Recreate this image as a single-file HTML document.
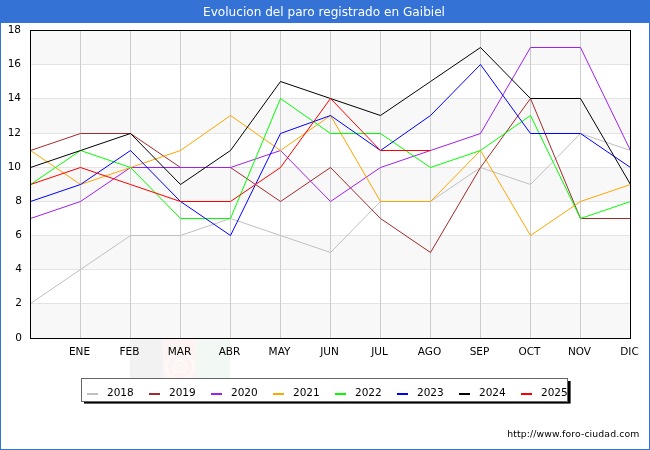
<!DOCTYPE html>
<html><head><meta charset="utf-8"><title>Evolucion del paro registrado en Gaibiel</title>
<style>
html,body{margin:0;padding:0;background:#fff;}
body{width:650px;height:450px;overflow:hidden;position:relative;font-family:"DejaVu Sans","Liberation Sans",sans-serif;}
svg{position:absolute;left:0;top:0;display:block;}
text{font-family:"DejaVu Sans","Liberation Sans",sans-serif;}
</style></head><body>
<svg width="650" height="450" viewBox="0 0 650 450">
<rect x="0" y="0" width="650" height="450" fill="#ffffff"/>
<rect x="0" y="0" width="650" height="23" fill="#3472d6"/>
<rect x="0" y="0" width="1" height="450" fill="#3472d6"/>
<rect x="649" y="0" width="1" height="450" fill="#3472d6"/>
<rect x="0" y="449" width="650" height="1" fill="#3472d6"/>
<text x="324" y="16" font-size="12.1" fill="#ffffff" text-anchor="middle">Evolucion del paro registrado en Gaibiel</text>

<rect x="130" y="339" width="33.5" height="40" fill="#f2f2f2"/>
<rect x="163.5" y="339" width="33" height="40" fill="#fdf3f2"/>
<rect x="196.5" y="339" width="33.5" height="40" fill="#f2f8f4"/>
<g fill="none" stroke="#ffffff" opacity="0.6">
<circle cx="180" cy="366.5" r="13.5" stroke-width="3.4" stroke-dasharray="2.4 0.8"/>
<path d="M174 372 L174 364 Q180 357 186 364 L186 372 Z" stroke-width="1.6"/>
<path d="M177.5 372 L177.5 367 Q180 364.5 182.5 367 L182.5 372" stroke-width="1.2"/>
<path d="M176 360 Q180 357.5 184 360" stroke-width="1.4"/>
</g>
<rect x="30.5" y="30.50" width="600.0" height="34.00" fill="#f8f8f8"/>
<rect x="30.5" y="98.50" width="600.0" height="35.00" fill="#f8f8f8"/>
<rect x="30.5" y="167.50" width="600.0" height="34.00" fill="#f8f8f8"/>
<rect x="30.5" y="235.50" width="600.0" height="34.00" fill="#f8f8f8"/>
<rect x="30.5" y="303.50" width="600.0" height="35.00" fill="#f8f8f8"/>
<line x1="30.5" y1="303.5" x2="630.5" y2="303.5" stroke="#e4e4e4" stroke-width="1"/>
<line x1="30.5" y1="269.5" x2="630.5" y2="269.5" stroke="#e4e4e4" stroke-width="1"/>
<line x1="30.5" y1="235.5" x2="630.5" y2="235.5" stroke="#e4e4e4" stroke-width="1"/>
<line x1="30.5" y1="201.5" x2="630.5" y2="201.5" stroke="#e4e4e4" stroke-width="1"/>
<line x1="30.5" y1="167.5" x2="630.5" y2="167.5" stroke="#e4e4e4" stroke-width="1"/>
<line x1="30.5" y1="133.5" x2="630.5" y2="133.5" stroke="#e4e4e4" stroke-width="1"/>
<line x1="30.5" y1="98.5" x2="630.5" y2="98.5" stroke="#e4e4e4" stroke-width="1"/>
<line x1="30.5" y1="64.5" x2="630.5" y2="64.5" stroke="#e4e4e4" stroke-width="1"/>
<line x1="80.5" y1="30.5" x2="80.5" y2="338.5" stroke="#cccccc" stroke-width="1"/>
<line x1="130.5" y1="30.5" x2="130.5" y2="338.5" stroke="#cccccc" stroke-width="1"/>
<line x1="180.5" y1="30.5" x2="180.5" y2="338.5" stroke="#cccccc" stroke-width="1"/>
<line x1="230.5" y1="30.5" x2="230.5" y2="338.5" stroke="#cccccc" stroke-width="1"/>
<line x1="280.5" y1="30.5" x2="280.5" y2="338.5" stroke="#cccccc" stroke-width="1"/>
<line x1="330.5" y1="30.5" x2="330.5" y2="338.5" stroke="#cccccc" stroke-width="1"/>
<line x1="380.5" y1="30.5" x2="380.5" y2="338.5" stroke="#cccccc" stroke-width="1"/>
<line x1="430.5" y1="30.5" x2="430.5" y2="338.5" stroke="#cccccc" stroke-width="1"/>
<line x1="480.5" y1="30.5" x2="480.5" y2="338.5" stroke="#cccccc" stroke-width="1"/>
<line x1="530.5" y1="30.5" x2="530.5" y2="338.5" stroke="#cccccc" stroke-width="1"/>
<line x1="580.5" y1="30.5" x2="580.5" y2="338.5" stroke="#cccccc" stroke-width="1"/>
<polyline points="30.5,303.5 80.5,269.5 130.5,235.5 180.5,235.5 230.5,218.5 280.5,235.5 330.5,252.5 380.5,201.5 430.5,201.5 480.5,167.5 530.5,184.5 580.5,133.5 630.5,150.5" fill="none" stroke="#c0c0c0" stroke-width="1" stroke-linejoin="round"/>
<polyline points="30.5,150.5 80.5,133.5 130.5,133.5 180.5,167.5 230.5,167.5 280.5,201.5 330.5,167.5 380.5,218.5 430.5,252.5 480.5,167.5 530.5,98.5 580.5,218.5 630.5,218.5" fill="none" stroke="#a52a2a" stroke-width="1" stroke-linejoin="round"/>
<polyline points="30.5,218.5 80.5,201.5 130.5,167.5 180.5,167.5 230.5,167.5 280.5,150.5 330.5,201.5 380.5,167.5 430.5,150.5 480.5,133.5 530.5,47.5 580.5,47.5 630.5,150.5" fill="none" stroke="#a020f0" stroke-width="1" stroke-linejoin="round"/>
<polyline points="30.5,150.5 80.5,184.5 130.5,167.5 180.5,150.5 230.5,115.5 280.5,150.5 330.5,115.5 380.5,201.5 430.5,201.5 480.5,150.5 530.5,235.5 580.5,201.5 630.5,184.5" fill="none" stroke="#ffa500" stroke-width="1" stroke-linejoin="round"/>
<polyline points="30.5,184.5 80.5,150.5 130.5,167.5 180.5,218.5 230.5,218.5 280.5,98.5 330.5,133.5 380.5,133.5 430.5,167.5 480.5,150.5 530.5,115.5 580.5,218.5 630.5,201.5" fill="none" stroke="#00ff00" stroke-width="1" stroke-linejoin="round"/>
<polyline points="30.5,201.5 80.5,184.5 130.5,150.5 180.5,201.5 230.5,235.5 280.5,133.5 330.5,115.5 380.5,150.5 430.5,115.5 480.5,64.5 530.5,133.5 580.5,133.5 630.5,167.5" fill="none" stroke="#0000ff" stroke-width="1" stroke-linejoin="round"/>
<polyline points="30.5,167.5 80.5,150.5 130.5,133.5 180.5,184.5 230.5,150.5 280.5,81.5 330.5,98.5 380.5,115.5 430.5,81.5 480.5,47.5 530.5,98.5 580.5,98.5 630.5,184.5" fill="none" stroke="#000000" stroke-width="1" stroke-linejoin="round"/>
<polyline points="30.5,184.5 80.5,167.5 130.5,184.5 180.5,201.5 230.5,201.5 280.5,167.5 330.5,98.5 380.5,150.5 430.5,150.5" fill="none" stroke="#ff0000" stroke-width="1" stroke-linejoin="round"/>
<rect x="30.5" y="30.5" width="600.0" height="308.0" fill="none" stroke="#000" stroke-width="1"/>
<text x="22" y="341.0" font-size="10.5" fill="#000" text-anchor="end">0</text>
<text x="22" y="306.0" font-size="10.5" fill="#000" text-anchor="end">2</text>
<text x="22" y="272.0" font-size="10.5" fill="#000" text-anchor="end">4</text>
<text x="22" y="238.0" font-size="10.5" fill="#000" text-anchor="end">6</text>
<text x="22" y="204.0" font-size="10.5" fill="#000" text-anchor="end">8</text>
<text x="21" y="170.0" font-size="10.5" fill="#000" text-anchor="end">10</text>
<text x="21" y="136.0" font-size="10.5" fill="#000" text-anchor="end">12</text>
<text x="21" y="101.0" font-size="10.5" fill="#000" text-anchor="end">14</text>
<text x="21" y="67.0" font-size="10.5" fill="#000" text-anchor="end">16</text>
<text x="21" y="33.0" font-size="10.5" fill="#000" text-anchor="end">18</text>
<text x="79.5" y="355" font-size="10.5" fill="#000" text-anchor="middle">ENE</text>
<text x="129.5" y="355" font-size="10.5" fill="#000" text-anchor="middle">FEB</text>
<text x="179.5" y="355" font-size="10.5" fill="#000" text-anchor="middle">MAR</text>
<text x="229.5" y="355" font-size="10.5" fill="#000" text-anchor="middle">ABR</text>
<text x="279.5" y="355" font-size="10.5" fill="#000" text-anchor="middle">MAY</text>
<text x="329.5" y="355" font-size="10.5" fill="#000" text-anchor="middle">JUN</text>
<text x="379.5" y="355" font-size="10.5" fill="#000" text-anchor="middle">JUL</text>
<text x="429.5" y="355" font-size="10.5" fill="#000" text-anchor="middle">AGO</text>
<text x="479.5" y="355" font-size="10.5" fill="#000" text-anchor="middle">SEP</text>
<text x="529.5" y="355" font-size="10.5" fill="#000" text-anchor="middle">OCT</text>
<text x="579.5" y="355" font-size="10.5" fill="#000" text-anchor="middle">NOV</text>
<text x="629.5" y="355" font-size="10.5" fill="#000" text-anchor="middle">DIC</text>
<rect x="84" y="381" width="486.6" height="22.6" fill="#000"/>
<rect x="81.5" y="378.5" width="486" height="23" fill="#fff" stroke="#666" stroke-width="1"/>
<line x1="87" y1="394" x2="98" y2="394" stroke="#c0c0c0" stroke-width="2"/>
<text x="107" y="396" font-size="10.5" fill="#000">2018</text>
<line x1="149" y1="394" x2="160" y2="394" stroke="#a52a2a" stroke-width="2"/>
<text x="169" y="396" font-size="10.5" fill="#000">2019</text>
<line x1="211" y1="394" x2="222" y2="394" stroke="#a020f0" stroke-width="2"/>
<text x="231" y="396" font-size="10.5" fill="#000">2020</text>
<line x1="273" y1="394" x2="284" y2="394" stroke="#ffa500" stroke-width="2"/>
<text x="293" y="396" font-size="10.5" fill="#000">2021</text>
<line x1="335" y1="394" x2="346" y2="394" stroke="#00ff00" stroke-width="2"/>
<text x="355" y="396" font-size="10.5" fill="#000">2022</text>
<line x1="397" y1="394" x2="408" y2="394" stroke="#0000ff" stroke-width="2"/>
<text x="417" y="396" font-size="10.5" fill="#000">2023</text>
<line x1="459" y1="394" x2="470" y2="394" stroke="#000000" stroke-width="2"/>
<text x="479" y="396" font-size="10.5" fill="#000">2024</text>
<line x1="521" y1="394" x2="532" y2="394" stroke="#ff0000" stroke-width="2"/>
<text x="541" y="396" font-size="10.5" fill="#000">2025</text>
<text x="639.5" y="437" font-size="9.3" letter-spacing="0.12" fill="#000" text-anchor="end">http://www.foro-ciudad.com</text>
</svg></body></html>
